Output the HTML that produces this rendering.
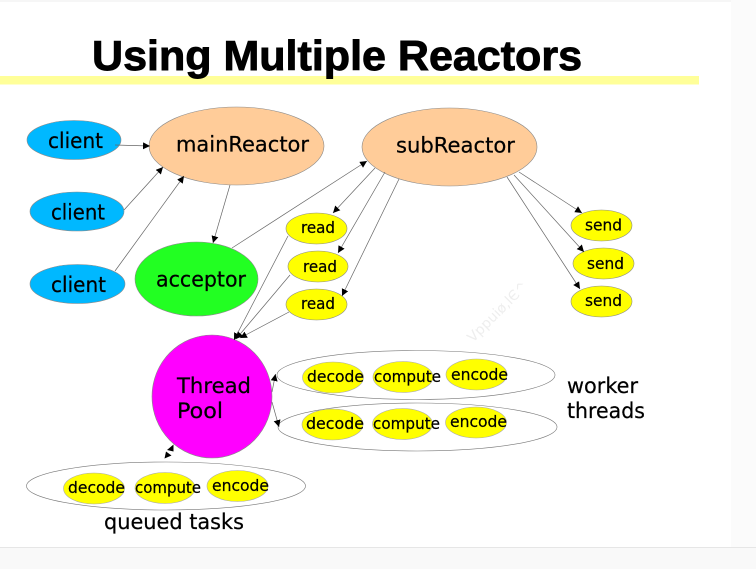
<!DOCTYPE html>
<html>
<head>
<meta charset="utf-8">
<style>
html,body{margin:0;padding:0;background:#fff;width:756px;height:569px;overflow:hidden}
svg{display:block}
text{font-family:"DejaVu Sans","Liberation Sans",sans-serif;fill:#000}
.t text{stroke:#000;stroke-width:.22}
</style>
</head>
<body>
<svg xmlns="http://www.w3.org/2000/svg" width="756" height="569" viewBox="0 0 756 569">
<defs>
<marker id="a" markerUnits="userSpaceOnUse" markerWidth="8" markerHeight="8" refX="7" refY="3.5" orient="auto"><path d="M0 0L7 3.5L0 7z" fill="#000"/></marker>
<filter id="s" x="-2%" y="-2%" width="104%" height="104%"><feGaussianBlur stdDeviation="0.35"/></filter>
</defs>
<rect width="756" height="569" fill="#fff"/>
<rect width="756" height="2" fill="#f6f6f6"/>
<rect x="731" width="25" height="547" fill="#fbfbfb"/>
<rect y="547" width="756" height="22" fill="#f9f9f9"/>
<rect y="547" width="756" height="1" fill="#e6e6e6"/>
<g filter="url(#s)">
<rect x="0" y="76" width="699" height="8.5" fill="#ffff99"/>
<text x="92" y="70" textLength="490" lengthAdjust="spacingAndGlyphs" style="font-family:'Liberation Sans',sans-serif;font-weight:700;font-size:42px;fill:#000;stroke:#000;stroke-width:.9">Using Multiple Reactors</text>

<text transform="translate(473,343) rotate(-45)" font-size="14" textLength="79" lengthAdjust="spacingAndGlyphs" style="fill:#eeeeee">Vppuiø,lЄ^</text>

<g stroke="#8a8a8a" stroke-width=".6">
<ellipse cx="74" cy="140" rx="47" ry="19.5" fill="#00b8ff"/>
<ellipse cx="77" cy="211.5" rx="47" ry="19.5" fill="#00b8ff"/>
<ellipse cx="77.5" cy="284" rx="47.5" ry="19.5" fill="#00b8ff"/>
<ellipse cx="236.5" cy="146" rx="87.5" ry="39" fill="#ffcc99"/>
<ellipse cx="449.5" cy="147" rx="87.5" ry="39" fill="#ffcc99"/>
<ellipse cx="196.5" cy="279" rx="61.5" ry="37" fill="#22ff22"/>
<ellipse cx="212" cy="396.5" rx="60" ry="61.5" fill="#ff00ff"/>
<g fill="#ffff00">
<ellipse cx="316.5" cy="228.5" rx="30.5" ry="15.5"/>
<ellipse cx="318" cy="266.5" rx="30" ry="15.5"/>
<ellipse cx="316.5" cy="304.5" rx="30.5" ry="15.5"/>
<ellipse cx="601.5" cy="225.5" rx="30.5" ry="15.5"/>
<ellipse cx="603.5" cy="263.5" rx="30.5" ry="15.5"/>
<ellipse cx="601.5" cy="301.5" rx="30.5" ry="15.5"/>
</g>
<g fill="#fff" stroke="#777">
<ellipse cx="416" cy="375" rx="139" ry="24.5"/>
<ellipse cx="417.5" cy="427" rx="139.5" ry="24"/>
<ellipse cx="166" cy="486" rx="139.5" ry="24"/>
</g>
<g fill="#ffff00" stroke="#aaa">
<ellipse cx="333" cy="377.5" rx="30.5" ry="15.5"/>
<ellipse cx="403" cy="377" rx="30" ry="15.5"/>
<ellipse cx="476.5" cy="374.5" rx="30.5" ry="15.5"/>
<ellipse cx="332.5" cy="424.5" rx="30.5" ry="15.5"/>
<ellipse cx="402.5" cy="424" rx="30" ry="15.5"/>
<ellipse cx="476" cy="422.5" rx="30.5" ry="15.5"/>
<ellipse cx="94" cy="488.5" rx="30.5" ry="15.5"/>
<ellipse cx="165" cy="488" rx="30" ry="15.5"/>
<ellipse cx="237.5" cy="486" rx="30.5" ry="15.5"/>
</g>
</g>

<g stroke="#666" stroke-width=".7" fill="none" marker-end="url(#a)">
<line x1="115" y1="145" x2="150" y2="146"/>
<line x1="124" y1="210" x2="163" y2="167"/>
<line x1="115" y1="271" x2="184" y2="176"/>
<line x1="230" y1="185" x2="213" y2="243"/>
<line x1="232" y1="248" x2="367" y2="161"/>
<line x1="375" y1="168" x2="333" y2="213"/>
<line x1="385" y1="172" x2="338" y2="253"/>
<line x1="399" y1="179" x2="342" y2="296"/>
<line x1="288" y1="236" x2="234" y2="340"/>
<line x1="290" y1="275" x2="236" y2="339"/>
<line x1="289" y1="312" x2="240" y2="338"/>
<line x1="519" y1="172" x2="582" y2="213"/>
<line x1="514" y1="175" x2="584" y2="252"/>
<line x1="507" y1="177" x2="580" y2="289"/>
<line x1="272" y1="392" x2="275.5" y2="374"/>
<line x1="272" y1="402" x2="279" y2="427"/>
</g>
<polygon points="173.5,444.5 173.5,451.5 167,450" fill="#000"/>
<polygon points="164.5,458.5 171.5,455.5 166,451.5" fill="#000"/>

<g font-size="21" class="t">
<text x="48" y="148" textLength="55" lengthAdjust="spacingAndGlyphs">client</text>
<text x="51" y="219.5" textLength="54" lengthAdjust="spacingAndGlyphs">client</text>
<text x="51" y="292" textLength="55" lengthAdjust="spacingAndGlyphs">client</text>
<text x="176" y="151.5" textLength="133" lengthAdjust="spacingAndGlyphs">mainReactor</text>
<text x="396" y="152.5" textLength="119" lengthAdjust="spacingAndGlyphs">subReactor</text>
<text x="156" y="286.5" textLength="90" lengthAdjust="spacingAndGlyphs">acceptor</text>
<text x="177" y="393" textLength="74" lengthAdjust="spacingAndGlyphs">Thread</text>
<text x="177" y="418" textLength="46" lengthAdjust="spacingAndGlyphs">Pool</text>
<text x="567" y="393" textLength="71" lengthAdjust="spacingAndGlyphs">worker</text>
<text x="567" y="418" textLength="78" lengthAdjust="spacingAndGlyphs">threads</text>
<text x="104" y="529" textLength="140" lengthAdjust="spacingAndGlyphs">queued tasks</text>
</g>

<g font-size="16" class="t">
<text x="301" y="233" textLength="34" lengthAdjust="spacingAndGlyphs">read</text>
<text x="303" y="272" textLength="34" lengthAdjust="spacingAndGlyphs">read</text>
<text x="301" y="309" textLength="34" lengthAdjust="spacingAndGlyphs">read</text>
<text x="585" y="230.5" textLength="37" lengthAdjust="spacingAndGlyphs">send</text>
<text x="587" y="269" textLength="37" lengthAdjust="spacingAndGlyphs">send</text>
<text x="585" y="306" textLength="37" lengthAdjust="spacingAndGlyphs">send</text>
<text x="307" y="382" textLength="57" lengthAdjust="spacingAndGlyphs">decode</text>
<text x="374" y="382" textLength="67" lengthAdjust="spacingAndGlyphs">compute</text>
<text x="451" y="380" textLength="57" lengthAdjust="spacingAndGlyphs">encode</text>
<text x="306" y="429" textLength="58" lengthAdjust="spacingAndGlyphs">decode</text>
<text x="373" y="429" textLength="67" lengthAdjust="spacingAndGlyphs">compute</text>
<text x="450" y="427" textLength="57" lengthAdjust="spacingAndGlyphs">encode</text>
<text x="68" y="493" textLength="57" lengthAdjust="spacingAndGlyphs">decode</text>
<text x="135" y="493" textLength="66" lengthAdjust="spacingAndGlyphs">compute</text>
<text x="212" y="491" textLength="57" lengthAdjust="spacingAndGlyphs">encode</text>
</g>
</g>
</svg>
</body>
</html>
